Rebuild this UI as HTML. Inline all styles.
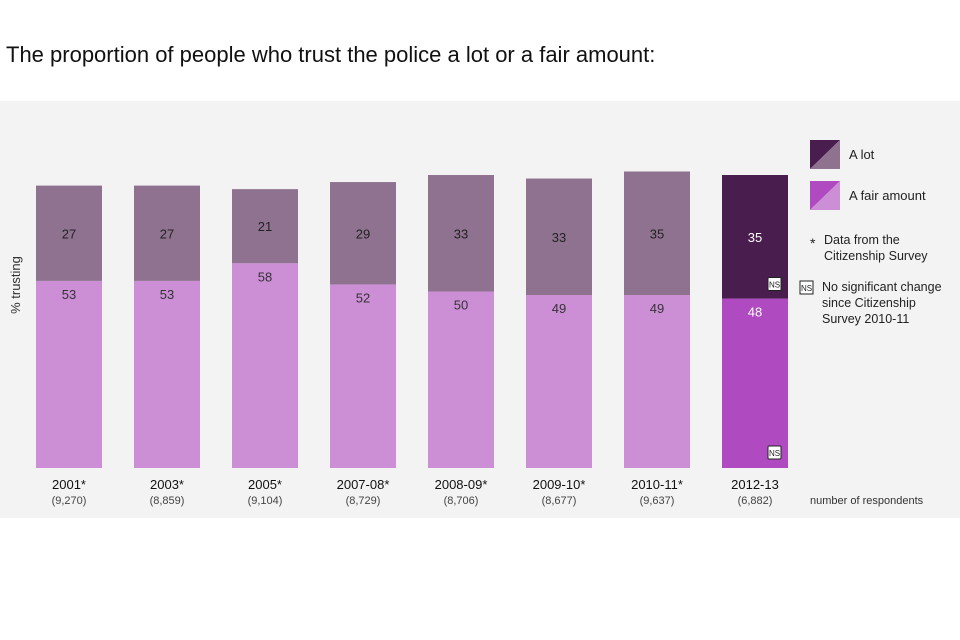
<!DOCTYPE html>
<html><head><meta charset="utf-8"><style>
body{margin:0;width:960px;height:640px;background:#fff;font-family:"Liberation Sans",sans-serif;position:relative;overflow:hidden}
#title{position:absolute;left:6px;top:42px;font-size:22px;color:#111}
#panel{position:absolute;left:0;top:101px;width:960px;height:417px;background:#f3f3f3}
svg text{font-family:"Liberation Sans",sans-serif}
</style></head><body>
<div id="title">The proportion of people who trust the police a lot or a fair amount:</div>
<div id="panel"></div>
<svg id="chart" width="960" height="640" style="position:absolute;left:0;top:0">
<text x="20" y="285" font-size="13" fill="#333" transform="rotate(-90 20 285)" text-anchor="middle">% trusting</text>
<g id="bars"></g>
<g>
<polygon points="810,140 840,140 810,169" fill="#4a1d4f"/><polygon points="840,140 840,169 810,169" fill="#8f7290"/>
<text x="849" y="159" font-size="13" fill="#222">A lot</text>
<polygon points="810,181 840,181 810,210" fill="#b04ac0"/><polygon points="840,181 840,210 810,210" fill="#cc8fd6"/>
<text x="849" y="200" font-size="13" fill="#222">A fair amount</text>
<text x="810" y="248" font-size="14" fill="#222">*</text>
<text x="824" y="244" font-size="12.5" fill="#222">Data from the</text>
<text x="824" y="260" font-size="12.5" fill="#222">Citizenship Survey</text>
<rect x="800" y="281" width="13" height="13" fill="#fff" stroke="#222"/><text x="806.5" y="291" font-size="8" text-anchor="middle" fill="#222">NS</text>
<text x="822" y="291" font-size="12.5" fill="#222">No significant change</text>
<text x="822" y="307" font-size="12.5" fill="#222">since Citizenship</text>
<text x="822" y="323" font-size="12.5" fill="#222">Survey 2010-11</text>
<text x="810" y="504" font-size="11" fill="#333">number of respondents</text>
</g>
</svg>
<script>
const categories=["2001*","2003*","2005*","2007-08*","2008-09*","2009-10*","2010-11*","2012-13"];
const respondents=["(9,270)","(8,859)","(9,104)","(8,729)","(8,706)","(8,677)","(9,637)","(6,882)"];
const fairAmount=[53,53,58,52,50,49,49,48];
const aLot=[27,27,21,29,33,33,35,35];
const ns="http://www.w3.org/2000/svg";
const g=document.getElementById('bars');
const base=468, k=3.53, x0=36, step=98, bw=66;
const yv=v=>base-v*k;
function el(t,a){const e=document.createElementNS(ns,t);for(const n in a)e.setAttribute(n,a[n]);g.appendChild(e);return e;}
categories.forEach((c,i)=>{
  const x=x0+i*step, last=i===categories.length-1;
  const f=fairAmount[i], l=aLot[i];
  const r1=el('rect',{x:x,y:yv(f),width:bw,height:f*k,fill:last?'#b04ac0':'#cc8fd6'});
  
  
  const r2=el('rect',{x:x,y:yv(f+l),width:bw,height:l*k,fill:last?'#4a1d4f':'#8f7290'});
  
  
  const t1=el('text',{x:x+bw/2,y:yv(f)+18,'font-size':13,'text-anchor':'middle',fill:last?'#fff':'#333'});t1.textContent=f;
  
  
  const t2=el('text',{x:x+bw/2,y:yv(f+l/2)+5,'font-size':13,'text-anchor':'middle',fill:last?'#fff':'#222'});t2.textContent=l;
  
  
  const c1=el('text',{x:x+bw/2,y:489,'font-size':13,'text-anchor':'middle',fill:'#111'});c1.textContent=c;
  
  
  const c2=el('text',{x:x+bw/2,y:504,'font-size':11,'text-anchor':'middle',fill:'#444'});c2.textContent=respondents[i];
  
  
  if(last){
    [yv(f)-21,base-22].forEach(yy=>{
      const b=el('rect',{x:x+bw-20,y:yy,width:13,height:13,fill:'#fff',stroke:'#222',rx:1});
      
      
      const bt=el('text',{x:x+bw-13.5,y:yy+10,'font-size':8,'text-anchor':'middle',fill:'#222'});bt.textContent='NS';
    });
  }
});
</script>
</body></html>
